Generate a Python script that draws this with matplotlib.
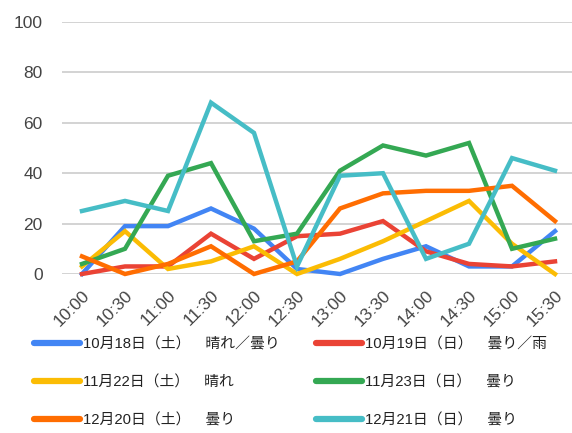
import matplotlib.pyplot as plt

plt.rcParams['font.family'] = ['Liberation Sans', 'Noto Sans CJK JP', 'DejaVu Sans']

times = ['10:00', '10:30', '11:00', '11:30', '12:00', '12:30',
         '13:00', '13:30', '14:00', '14:30', '15:00', '15:30']

oct18 = [0, 19, 19, 26, 18, 2, 0, 6, 11, 3, 3, 17]
oct19 = [0, 3, 3, 16, 6, 15, 16, 21, 9, 4, 3, 5]
nov22 = [3, 17, 2, 5, 11, 0, 6, 13, 21, 29, 12, 0]
nov23 = [4, 10, 39, 44, 13, 16, 41, 51, 47, 52, 10, 14]
dec20 = [7, 0, 4, 11, 0, 5, 26, 32, 33, 33, 35, 21]
dec21 = [25, 29, 25, 68, 56, 3, 39, 40, 6, 12, 46, 41]

labels = ['10月18日（土）　晴れ／曇り', '10月19日（日）　曇り／雨',
          '11月22日（土）　晴れ', '11月23日（日）　曇り',
          '12月20日（土）　曇り', '12月21日（日）　曇り']
colors = ['#4285F4', '#EA4335', '#FBBC04', '#34A853', '#FF6D01', '#46BDC6']
series = [oct18, oct19, nov22, nov23, dec20, dec21]

fig = plt.figure(figsize=(5.72, 4.33), dpi=100)
ax = fig.add_axes([62 / 572, 1 - 274 / 433, 1 - 62 / 572, 252 / 433])

x = list(range(len(times)))
lines = []
for vals, c, lab in zip(series, colors, labels):
    ln, = ax.plot(x, vals, color=c, lw=3.2, label=lab, clip_on=False,
                  solid_joinstyle='miter')
    lines.append(ln)

ax.set_xlim(-20 / 43, 11 + 17 / 43)
ax.set_ylim(0, 100)
ax.set_yticks([0, 20, 40, 60, 80, 100])
ax.grid(axis='y', color='#cccccc', lw=1.2)
ax.set_axisbelow(True)
for s in ax.spines.values():
    s.set_visible(False)
ax.tick_params(length=0, labelsize=12.5, labelcolor='#444444')
ax.tick_params(axis='y', pad=14)
ax.tick_params(axis='x', pad=10)
ax.set_xticks(x)
ax.set_xticklabels(times, rotation=45, ha='right', rotation_mode='anchor')

# legend is filled column by column, so reorder to read across rows
order = [0, 2, 4, 1, 3, 5]
leg = fig.legend([lines[i] for i in order], [labels[i] for i in order],
                 ncol=2, loc='upper left', bbox_to_anchor=(34 / 572, 1 - 337 / 433),
                 frameon=False, fontsize=10.7, handlelength=3.1,
                 handletextpad=0.2, columnspacing=2.45, labelspacing=1.6,
                 borderpad=0, borderaxespad=0)
for t in leg.get_texts():
    t.set_color('#222222')
for h in leg.get_lines():
    h.set_linewidth(4.5)
    h.set_solid_capstyle('round')

fig.savefig('out.png', dpi=100)
